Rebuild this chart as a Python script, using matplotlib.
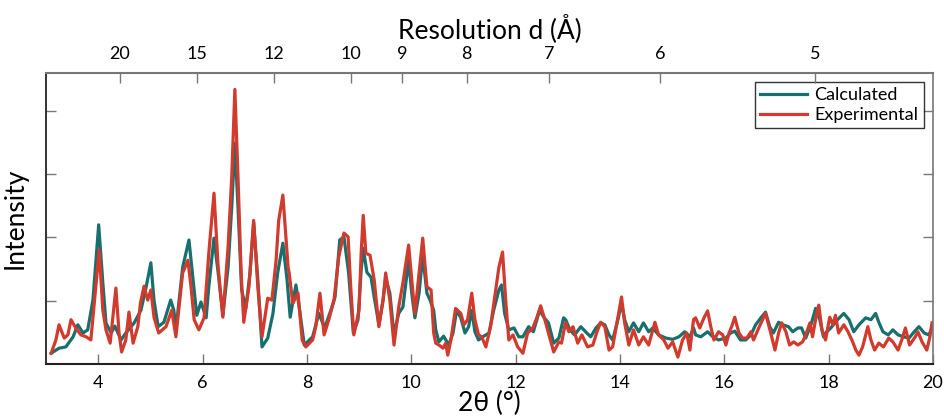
import numpy as np
import matplotlib
matplotlib.use("Agg")
import matplotlib.pyplot as plt

# Longitud de onda Cu K-alfa (Å)
LAMBDA = 1.5418

# Patrón calculado (2θ en grados, intensidad relativa)
tt_calc = [3.10, 3.25, 3.38, 3.52, 3.61, 3.71, 3.80, 3.90, 4.01, 4.09, 4.15, 4.25, 4.32, 4.44,
           4.53, 4.69, 4.82, 4.92, 5.01, 5.07, 5.15, 5.26, 5.39, 5.45,
           5.49, 5.62, 5.74, 5.82, 5.89, 5.97, 6.07, 6.12, 6.22, 6.30, 6.39, 6.49, 6.56, 6.62,
           6.68, 6.75, 6.83, 6.91, 6.98, 7.06, 7.14, 7.25, 7.35, 7.44, 7.54, 7.62, 7.68, 7.79,
           7.87, 7.95,
           8.11, 8.23, 8.34, 8.46, 8.54, 8.63, 8.71, 8.80, 8.89, 8.98, 9.04, 9.08, 9.15, 9.23,
           9.29, 9.38, 9.46, 9.51, 9.59, 9.67, 9.76, 9.84, 9.95, 10.01, 10.07, 10.15, 10.22,
           10.30, 10.36, 10.43,
           10.47, 10.53, 10.62, 10.72, 10.80, 10.87, 10.95, 11.03, 11.10, 11.16, 11.22, 11.29,
           11.37, 11.49, 11.58, 11.68, 11.73, 11.79, 11.87, 11.97, 12.06, 12.14, 12.25, 12.34,
           12.46, 12.54, 12.63, 12.73, 12.83, 12.92,
           12.96, 13.04, 13.13, 13.25, 13.34, 13.44, 13.54, 13.63, 13.71, 13.79, 13.86, 13.96,
           14.03, 14.09, 14.17, 14.26, 14.36, 14.45, 14.55, 14.63, 14.74, 14.88, 15.01, 15.13,
           15.24, 15.34, 15.41,
           15.45, 15.55, 15.68, 15.78, 15.89, 16.03, 16.12, 16.20, 16.31, 16.41, 16.51, 16.60,
           16.70, 16.79, 16.87, 16.94, 17.04, 17.12, 17.23, 17.31, 17.41, 17.48, 17.56, 17.66,
           17.75, 17.83, 17.90,
           17.94, 18.04, 18.17, 18.29, 18.39, 18.48, 18.58, 18.71, 18.81, 18.90, 18.96, 19.04,
           19.14, 19.23, 19.33, 19.44, 19.54, 19.64, 19.73, 19.83, 19.92, 19.98]
int_calc = [0.17, 0.25, 0.27, 0.43, 0.62, 0.49, 0.54, 1.01, 2.20, 1.28, 0.65, 0.49, 0.60, 0.38,
            0.49, 0.65, 0.85, 1.22, 1.60, 1.01, 0.59, 0.66, 1.01, 0.85,
            0.54, 1.53, 1.96, 1.33, 0.77, 0.98, 0.73, 1.22, 1.99, 1.44, 0.77, 1.53, 2.48, 3.49,
            2.48, 1.17, 0.88, 1.44, 2.23, 1.33, 0.27, 0.41, 0.80, 1.44, 1.91, 1.33, 0.74, 1.25,
            0.80, 0.30,
            0.43, 0.80, 0.57, 0.85, 1.06, 1.96, 2.01, 1.44, 0.49, 0.70, 1.48, 1.83, 1.45, 1.37,
            1.06, 0.62, 1.01, 1.36, 1.12, 0.46, 0.80, 0.90, 1.64, 1.12, 0.73, 1.12, 1.72,
            1.12, 1.01, 0.85,
            0.54, 0.35, 0.44, 0.30, 0.49, 0.85, 0.73, 0.49, 0.59, 0.85, 0.51, 0.38,
            0.43, 0.49, 0.85, 1.17, 1.25, 0.80, 0.54, 0.57, 0.43, 0.43, 0.59, 0.51,
            0.85, 0.74, 0.65, 0.33, 0.41, 0.73,
            0.70, 0.54, 0.46, 0.59, 0.51, 0.43, 0.57, 0.65, 0.62, 0.46, 0.38, 0.70,
            0.96, 0.70, 0.51, 0.65, 0.51, 0.65, 0.51, 0.57, 0.46, 0.41, 0.39, 0.43,
            0.51, 0.43, 0.57,
            0.46, 0.43, 0.51, 0.43, 0.38, 0.41, 0.49, 0.52, 0.38, 0.38, 0.46, 0.62,
            0.73, 0.82, 0.59, 0.49, 0.66, 0.62, 0.59, 0.51, 0.57, 0.57, 0.41, 0.62,
            0.88, 0.70, 0.43,
            0.49, 0.57, 0.70, 0.80, 0.70, 0.51, 0.62, 0.73, 0.70, 0.80, 0.66, 0.51,
            0.46, 0.54, 0.46, 0.43, 0.41, 0.51, 0.59, 0.49, 0.46, 0.57]

# Patrón experimental
tt_exp = [3.10, 3.19, 3.25, 3.35, 3.42, 3.48, 3.57, 3.67, 3.77, 3.86, 4.02, 4.09, 4.15, 4.23,
          4.34, 4.40, 4.45, 4.53, 4.59, 4.67, 4.76, 4.81, 4.88, 4.95, 5.01, 5.07, 5.16, 5.30,
          5.41,
          5.49, 5.62, 5.72, 5.78, 5.84, 5.93, 6.03, 6.12, 6.22, 6.30, 6.39, 6.49, 6.56, 6.62,
          6.68, 6.74, 6.79, 6.89, 6.98, 7.06, 7.14, 7.25, 7.33, 7.41, 7.46, 7.54, 7.64, 7.66,
          7.73, 7.83, 7.91, 7.98,
          8.11, 8.17, 8.25, 8.33, 8.42, 8.52, 8.61, 8.71, 8.79, 8.84, 8.90, 9.00, 9.04, 9.08,
          9.13, 9.21, 9.29, 9.38, 9.46, 9.51, 9.59, 9.67, 9.76, 9.84, 9.95, 10.01, 10.07,
          10.15, 10.22, 10.30, 10.38, 10.43,
          10.47, 10.53, 10.61, 10.66, 10.70, 10.76, 10.85, 10.95, 11.01, 11.08, 11.16, 11.22,
          11.29, 11.35, 11.43, 11.52, 11.62, 11.68, 11.75, 11.81, 11.87, 11.95, 12.04, 12.14,
          12.23, 12.33, 12.41, 12.48, 12.56, 12.63, 12.73, 12.83, 12.88, 12.94,
          12.96, 13.02, 13.10, 13.19, 13.27, 13.38, 13.48, 13.56, 13.63, 13.71, 13.79, 13.86,
          13.96, 14.03, 14.09, 14.17, 14.26, 14.36, 14.45, 14.55, 14.67, 14.74, 14.84, 14.92,
          15.01, 15.11, 15.20, 15.28, 15.34, 15.41,
          15.45, 15.53, 15.61, 15.68, 15.74, 15.80, 15.89, 15.97, 16.03, 16.09, 16.14, 16.20,
          16.28, 16.35, 16.43, 16.51, 16.56, 16.66, 16.79, 16.89, 16.97, 17.04, 17.10, 17.18,
          17.25, 17.33, 17.41, 17.50, 17.56, 17.64, 17.69, 17.77, 17.81, 17.87,
          17.94, 18.02, 18.08, 18.13, 18.19, 18.29, 18.37, 18.46, 18.52, 18.58, 18.65, 18.75,
          18.81, 18.88, 18.96, 19.05, 19.15, 19.23, 19.33, 19.40, 19.47, 19.55, 19.66, 19.71,
          19.79, 19.88, 19.94, 19.98]
int_exp = [0.17, 0.38, 0.62, 0.41, 0.46, 0.70, 0.57, 0.46, 0.43, 0.38, 1.80, 0.85, 0.54, 0.33,
           1.20, 0.49, 0.19, 0.38, 0.82, 0.33, 0.59, 0.96, 1.23, 1.01, 1.17, 0.74, 0.49, 0.59,
           0.85,
           0.43, 1.44, 1.64, 1.22, 0.70, 0.54, 0.73, 1.75, 2.70, 1.53, 0.74, 1.85, 2.96, 4.34,
           2.96, 1.44, 0.66, 1.22, 2.27, 1.22, 0.43, 1.04, 1.01, 1.64, 2.27, 2.67, 1.53, 1.44,
           0.96, 1.12, 0.38, 0.27,
           0.38, 0.59, 1.12, 0.46, 0.70, 1.01, 1.69, 2.07, 2.01, 1.22, 0.46, 0.85, 1.75, 2.35,
           1.75, 1.72, 1.33, 0.59, 1.01, 1.44, 1.01, 0.30, 0.90, 1.28, 1.88, 1.33, 0.80,
           1.44, 1.99, 1.22, 1.17, 0.49,
           0.33, 0.30, 0.25, 0.33, 0.14, 0.38, 0.88, 0.80, 0.62, 0.70, 1.12, 0.70,
           0.46, 0.43, 0.27, 0.59, 1.17, 1.53, 1.77, 1.01, 0.38, 0.46, 0.27, 0.17,
           0.49, 0.57, 0.74, 0.92, 0.70, 0.49, 0.19, 0.35, 0.33, 0.59,
           0.65, 0.51, 0.59, 0.33, 0.46, 0.27, 0.30, 0.51, 0.66, 0.59, 0.22, 0.27,
           0.74, 1.06, 0.65, 0.30, 0.54, 0.30, 0.43, 0.30, 0.66, 0.46, 0.38, 0.25,
           0.35, 0.11, 0.38, 0.49, 0.22, 0.70,
           0.73, 0.57, 0.73, 0.84, 0.59, 0.38, 0.51, 0.46, 0.30, 0.49, 0.59, 0.74,
           0.49, 0.41, 0.41, 0.51, 0.38, 0.57, 0.80, 0.49, 0.22, 0.49, 0.65, 0.51,
           0.30, 0.35, 0.30, 0.35, 0.46, 0.65, 0.43, 0.80, 0.93, 0.54,
           0.38, 0.74, 0.62, 0.77, 0.49, 0.62, 0.51, 0.35, 0.22, 0.14, 0.27, 0.59,
           0.38, 0.22, 0.33, 0.27, 0.41, 0.35, 0.22, 0.38, 0.57, 0.30, 0.43, 0.51,
           0.35, 0.22, 0.43, 0.65]

x_ticks = [4, 6, 8, 10, 12, 14, 16, 18, 20]
y_ticks = [1, 2, 3, 4]
d_ticks = [20, 15, 12, 10, 9, 8, 7, 6, 5]

COLOR_CALC = "#17706e"
COLOR_EXP = "#d13a2c"
GRIS = "#777777"

plt.rcParams['font.family'] = ['Lato', 'DejaVu Sans']


def d_a_2theta(d):
    return 2 * np.degrees(np.arcsin(LAMBDA / (2 * np.asarray(d, dtype=float))))


fig = plt.figure(figsize=(9.44, 4.16), dpi=100)
ax = fig.add_axes([0.0487, 0.125, 0.9397, 0.6995])

ax.plot(tt_calc, int_calc, color=COLOR_CALC, lw=2.3, solid_joinstyle='round',
        label="Calculated")
ax.plot(tt_exp, int_exp, color=COLOR_EXP, lw=2.3, solid_joinstyle='round',
        label="Experimental")

ax.set_xlim(3, 20)
ax.set_ylim(0, 4.6)
ax.set_xticks(x_ticks)
ax.set_yticks(y_ticks)
ax.set_yticklabels([])
ax.tick_params(axis='x', direction='in', length=7, width=1, color=GRIS,
               labelsize=13, pad=8, top=False)
ax.tick_params(axis='y', direction='in', length=7, width=1, color=GRIS,
               left=True, right=True)
ax.spines['left'].set_color("#222222")
ax.spines['bottom'].set_color("#222222")
ax.spines['left'].set_linewidth(1.3)
ax.spines['bottom'].set_linewidth(1.5)
ax.spines['top'].set_color(GRIS)
ax.spines['right'].set_color(GRIS)
ax.spines['top'].set_linewidth(1.5)
ax.spines['right'].set_linewidth(1.2)

ax.set_xlabel("2θ (°)", fontsize=19, labelpad=0)
ax.set_ylabel("Intensity", fontsize=19, labelpad=10)

# Eje superior: resolución d
ax_top = ax.twiny()
ax_top.set_xlim(ax.get_xlim())
ax_top.set_xticks(d_a_2theta(d_ticks))
ax_top.set_xticklabels([str(d) for d in d_ticks])
ax_top.tick_params(axis='x', direction='in', length=7, width=1, color=GRIS,
                   labelsize=13, pad=8)
for s in ax_top.spines.values():
    s.set_visible(False)
ax_top.set_xlabel("Resolution d (Å)", fontsize=19, labelpad=6)

leg = ax.legend(loc='upper right', fontsize=13, handlelength=2.6, frameon=True,
                fancybox=False, borderaxespad=0.5, borderpad=0.3, labelspacing=0.2,
                handletextpad=0.4)
leg.get_frame().set_edgecolor("black")
leg.get_frame().set_linewidth(1.0)

fig.savefig("out.png", dpi=100)
